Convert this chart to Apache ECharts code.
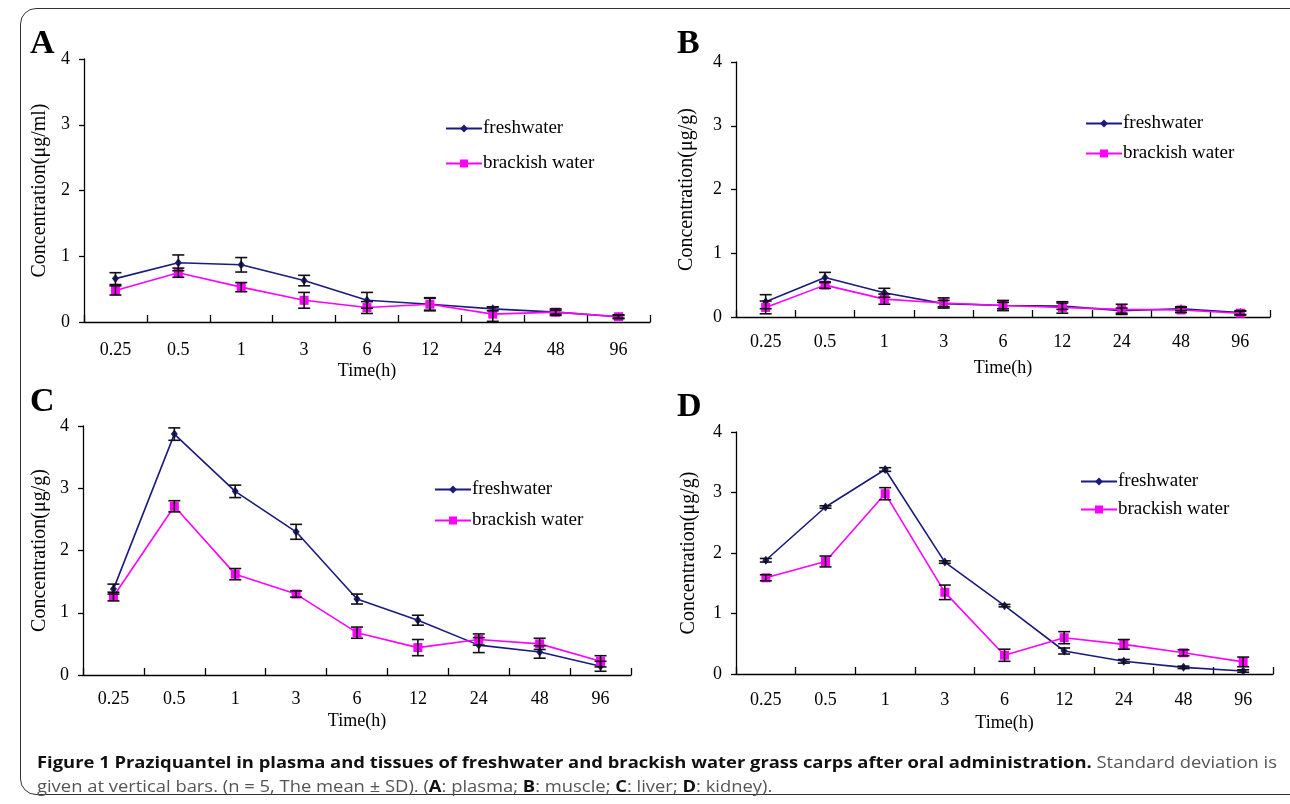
<!DOCTYPE html>
<html>
<head>
<meta charset="utf-8">
<script src="https://cdn.jsdelivr.net/npm/echarts@6/dist/echarts.min.js"></script>
<style>
  html, body { margin: 0; padding: 0; background: #fff; }
  #wrap { position: relative; width: 1290px; height: 804px; overflow: hidden; }
  #chart { position: absolute; left: 0; top: 0; width: 1290px; height: 804px; }
  #frame { position: absolute; left: 20px; top: 8px; width: 1290px; height: 787px;
           border: 1.5px solid #333; border-radius: 16px; box-sizing: border-box; pointer-events: none; }
  .cap { position: absolute; left: 37px; white-space: nowrap; font-family: "Open Sans", sans-serif;
         font-size: 16px; color: #555; transform-origin: 0 50%; }
  .cap b { color: #111; font-weight: 700; }
</style>
</head>
<body>
<div id="wrap">
  <div id="chart"></div>
  <div id="frame"></div>
  <div class="cap" id="cap1" style="top:751px"><b>Figure 1 Praziquantel in plasma and tissues of freshwater and brackish water grass carps after oral administration.</b> Standard deviation is</div>
  <div class="cap" id="cap2" style="top:775px">given at vertical bars. (n = 5, The mean ± SD). (<b>A</b>: plasma; <b>B</b>: muscle; <b>C</b>: liver; <b>D</b>: kidney).</div>
</div>
<script>
const categories = ['0.25', '0.5', '1', '3', '6', '12', '24', '48', '96'];
const yTicks = [0, 1, 2, 3, 4];
const seriesNames = ['freshwater', 'brackish water'];
const panelLetters = ['A', 'B', 'C', 'D'];
const yNames = ['Concentration(μg/ml)', 'Concentration(μg/g)', 'Concentration(μg/g)', 'Concentration(μg/g)'];

// Panel A: plasma
const A_fresh    = [0.66, 0.90, 0.87, 0.63, 0.33, 0.27, 0.20, 0.15, 0.08];
const A_fresh_sd = [0.09, 0.12, 0.11, 0.08, 0.12, 0.09, 0.03, 0.03, 0.02];
const A_brack    = [0.48, 0.75, 0.53, 0.33, 0.22, 0.27, 0.12, 0.15, 0.08];
const A_brack_sd = [0.07, 0.07, 0.07, 0.12, 0.09, 0.10, 0.11, 0.05, 0.03];
// Panel B: muscle
const B_fresh    = [0.24, 0.62, 0.38, 0.21, 0.18, 0.17, 0.10, 0.13, 0.07];
const B_fresh_sd = [0.11, 0.08, 0.07, 0.05, 0.05, 0.05, 0.04, 0.03, 0.03];
const B_brack    = [0.15, 0.50, 0.28, 0.22, 0.18, 0.15, 0.12, 0.11, 0.06];
const B_brack_sd = [0.10, 0.05, 0.08, 0.08, 0.08, 0.09, 0.08, 0.04, 0.03];
// Panel C: liver
const C_fresh    = [1.38, 3.87, 2.95, 2.30, 1.22, 0.88, 0.48, 0.37, 0.14];
const C_fresh_sd = [0.08, 0.10, 0.10, 0.12, 0.08, 0.08, 0.12, 0.10, 0.08];
const C_brack    = [1.26, 2.71, 1.62, 1.30, 0.68, 0.44, 0.57, 0.50, 0.22];
const C_brack_sd = [0.07, 0.09, 0.09, 0.05, 0.09, 0.13, 0.09, 0.09, 0.09];
// Panel D: kidney
const D_fresh    = [1.88, 2.76, 3.38, 1.85, 1.13, 0.38, 0.21, 0.11, 0.05];
const D_fresh_sd = [0.03, 0.02, 0.03, 0.02, 0.02, 0.05, 0.03, 0.02, 0.02];
const D_brack    = [1.59, 1.86, 2.98, 1.35, 0.31, 0.60, 0.49, 0.35, 0.20];
const D_brack_sd = [0.05, 0.09, 0.10, 0.12, 0.10, 0.10, 0.08, 0.05, 0.08];

const panels = [
  { fresh: A_fresh, freshSd: A_fresh_sd, brack: A_brack, brackSd: A_brack_sd },
  { fresh: B_fresh, freshSd: B_fresh_sd, brack: B_brack, brackSd: B_brack_sd },
  { fresh: C_fresh, freshSd: C_fresh_sd, brack: C_brack, brackSd: C_brack_sd },
  { fresh: D_fresh, freshSd: D_fresh_sd, brack: D_brack, brackSd: D_brack_sd }
];

// layout (pixels)
const grids = [
  { left: 84,  top: 59,  width: 566, height: 263 },
  { left: 736, top: 62,  width: 534, height: 255 },
  { left: 83,  top: 426, width: 548, height: 249 },
  { left: 736, top: 432, width: 537, height: 242 }
];
const legendPos = [
  { left: 445, top: 119, gap: 16 },
  { left: 1085, top: 114, gap: 11 },
  { left: 434, top: 480, gap: 12 },
  { left: 1080, top: 472, gap: 9 }
];
const letterPos = [[30, 27], [677, 27], [30, 385], [677, 390]];
const labelMargins = [19, 16, 15, 17];
const nameGaps = [40, 42, 37, 40];
const yNameGaps = [34, 39, 33, 37];

const FRESH_COLOR = '#1b1b7e';
const BRACK_COLOR = '#ff00ff';
const SERIF = '"Liberation Serif", "Times New Roman", serif';

function errRender(params, api) {
  const x = api.value(0);
  const lo = api.coord([x, api.value(1)]);
  const hi = api.coord([x, api.value(2)]);
  const w = 6;
  const style = { stroke: '#111', lineWidth: 1.6 };
  return {
    type: 'group',
    children: [
      { type: 'line', shape: { x1: lo[0], y1: lo[1], x2: hi[0], y2: hi[1] }, style },
      { type: 'line', shape: { x1: lo[0] - w, y1: lo[1], x2: lo[0] + w, y2: lo[1] }, style },
      { type: 'line', shape: { x1: hi[0] - w, y1: hi[1], x2: hi[0] + w, y2: hi[1] }, style }
    ]
  };
}

const option = {
  animation: false,
  backgroundColor: '#fff',
  textStyle: { fontFamily: SERIF },
  grid: grids.map(g => Object.assign({ containLabel: false }, g)),
  xAxis: grids.map((g, i) => ({
    type: 'category', gridIndex: i, data: categories, boundaryGap: true,
    name: 'Time(h)', nameLocation: 'middle', nameGap: nameGaps[i],
    nameTextStyle: { fontFamily: SERIF, fontSize: 18, color: '#000' },
    axisLine: { lineStyle: { color: '#000', width: 1.3 } },
    axisTick: { show: true, inside: true, length: 7, lineStyle: { color: '#000', width: 1.3 } },
    axisLabel: { fontFamily: SERIF, fontSize: 18, color: '#000', margin: labelMargins[i] },
    splitLine: { show: false }
  })),
  yAxis: grids.map((g, i) => ({
    type: 'value', gridIndex: i, min: yTicks[0], max: yTicks[yTicks.length - 1], interval: 1,
    name: yNames[i], nameLocation: 'middle', nameGap: yNameGaps[i], nameRotate: 90,
    nameTextStyle: { fontFamily: SERIF, fontSize: 20, color: '#000' },
    axisLine: { show: true, lineStyle: { color: '#000', width: 1.3 } },
    axisTick: { show: true, inside: false, length: 5, lineStyle: { color: '#000', width: 1.3 } },
    axisLabel: { fontFamily: SERIF, fontSize: 18, color: '#000', margin: 14 },
    splitLine: { show: false }
  })),
  legend: legendPos.map(p => ({
    data: seriesNames, orient: 'vertical', left: p.left, top: p.top, padding: 0,
    itemWidth: 36, itemHeight: 10, itemGap: p.gap,
    textStyle: { fontFamily: SERIF, fontSize: 19, color: '#000', padding: [0, 0, 0, -4] },
    selectedMode: false
  })),
  graphic: panelLetters.map((t, i) => ({
    type: 'text', left: letterPos[i][0], top: letterPos[i][1],
    style: { text: t, font: 'bold 34px ' + SERIF, fill: '#000' }
  })),
  series: []
};

panels.forEach((p, i) => {
  option.series.push({
    name: seriesNames[0], type: 'line', xAxisIndex: i, yAxisIndex: i, data: p.fresh,
    symbol: 'diamond', symbolSize: [7, 9], color: FRESH_COLOR,
    lineStyle: { color: FRESH_COLOR, width: 1.6 }, itemStyle: { color: FRESH_COLOR }, z: 3
  });
  option.series.push({
    name: seriesNames[1], type: 'line', xAxisIndex: i, yAxisIndex: i, data: p.brack,
    symbol: 'rect', symbolSize: 9, color: BRACK_COLOR,
    lineStyle: { color: BRACK_COLOR, width: 1.6 }, itemStyle: { color: BRACK_COLOR }, z: 3
  });
  option.series.push({
    type: 'custom', xAxisIndex: i, yAxisIndex: i, renderItem: errRender, z: 4,
    encode: { x: 0, y: [1, 2] },
    data: p.fresh.map((v, k) => [k, v - p.freshSd[k], v + p.freshSd[k]])
  });
  option.series.push({
    type: 'custom', xAxisIndex: i, yAxisIndex: i, renderItem: errRender, z: 4,
    encode: { x: 0, y: [1, 2] },
    data: p.brack.map((v, k) => [k, v - p.brackSd[k], v + p.brackSd[k]])
  });
});

const chart = echarts.init(document.getElementById('chart'), null, { renderer: 'canvas' });
chart.setOption(option);

// fit caption to reference width
const c1 = document.getElementById('cap1');
const c2 = document.getElementById('cap2');
const scale = 1240 / c1.getBoundingClientRect().width;
c1.style.transform = 'scaleX(' + scale + ')';
c2.style.transform = 'scaleX(' + scale + ')';
</script>
</body>
</html>
